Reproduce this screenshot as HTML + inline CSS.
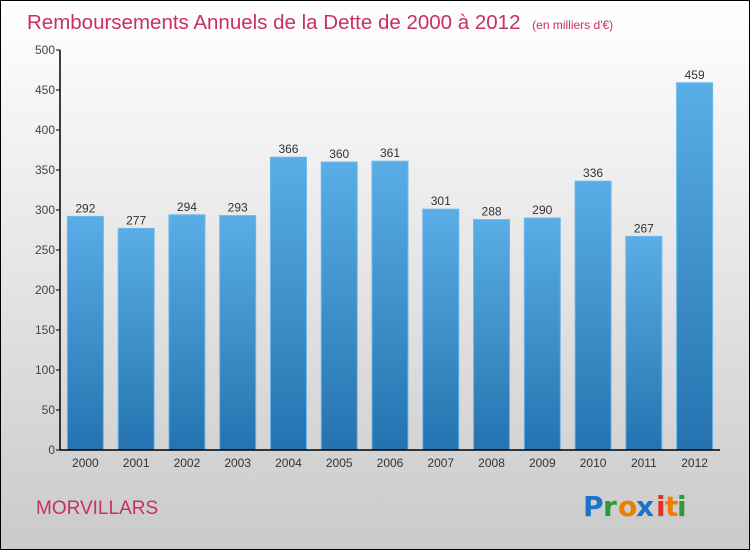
<!DOCTYPE html>
<html><head><meta charset="utf-8"><style>
html,body{margin:0;padding:0}
body{width:750px;height:550px;overflow:hidden;font-family:"Liberation Sans",sans-serif}
</style></head><body>
<svg id="chart" width="750" height="550" xmlns="http://www.w3.org/2000/svg">
<defs>
<linearGradient id="bg" x1="0" y1="0" x2="0" y2="1"><stop offset="0" stop-color="#ffffff"/><stop offset="1" stop-color="#cacaca"/></linearGradient>
<linearGradient id="bar" x1="0" y1="0" x2="0" y2="1"><stop offset="0" stop-color="#5aade6"/><stop offset="1" stop-color="#2473b0"/></linearGradient>
</defs>
<rect x="0.5" y="0.5" width="749" height="549" fill="url(#bg)" stroke="#000"/>
<text x="27" y="29" font-size="20.5" fill="#c8305f">Remboursements Annuels de la Dette de 2000 à 2012 <tspan font-size="12" dx="6">(en milliers d'€)</tspan></text>
<g id="plot"></g>
<text x="36" y="514" font-size="19" fill="#c8305f">MORVILLARS</text>
<g font-size="28" font-weight="bold" font-family="'DejaVu Sans',sans-serif">
<text x="583" y="516" fill="#1a73c9">P</text><text x="603" y="516" fill="#2a9a3a">r</text><text x="618" y="516" fill="#f07d00">o</text><text x="636" y="516" fill="#1a73c9">x</text><text x="656" y="516" fill="#e63020">i</text><text x="665" y="516" fill="#f07d00">t</text><text x="677" y="516" fill="#2a9a3a">i</text>
</g>
</svg>
<script>
const categories=["2000","2001","2002","2003","2004","2005","2006","2007","2008","2009","2010","2011","2012"];
const values=[292,277,294,293,366,360,361,301,288,290,336,267,459];
const yTicks=[0,50,100,150,200,250,300,350,400,450,500];
const ns="http://www.w3.org/2000/svg";
const g=document.getElementById('plot');
const x0=60,x1=720,yBase=450,yTop=50,yMax=500;
const band=(x1-x0)/categories.length;
const y=v=>yBase-(v/yMax)*(yBase-yTop);
const xc=i=>x0+band*(i+0.5);
function mk(t,a){const e=document.createElementNS(ns,t);for(const k in a)e.setAttribute(k,a[k]);g.appendChild(e);return e;}
values.forEach((v,i)=>{
 const r=mk('rect',{x:xc(i)-18,y:y(v),width:36,height:yBase-y(v),fill:'url(#bar)',stroke:'#6cb8ec','stroke-width':1});
 
 
 const t=mk('text',{x:xc(i),y:y(v)-4,'text-anchor':'middle','font-size':12,fill:'#333'});
 t.textContent=v;
 
 
 const c=mk('text',{x:xc(i),y:467,'text-anchor':'middle','font-size':12,fill:'#333'});
 c.textContent=categories[i];
 
 
});
yTicks.forEach(v=>{
 const l=mk('line',{x1:x0-4,x2:x0,y1:y(v),y2:y(v),stroke:'#000'});
 
 
 const t=mk('text',{x:x0-5,y:y(v)+4,'text-anchor':'end','font-size':12,fill:'#444'});
 t.textContent=v;
 
 
});
const ya=mk('line',{x1:x0,x2:x0,y1:yTop,y2:yBase,stroke:'#000','stroke-width':1.5});


const xa=mk('line',{x1:x0,x2:x1,y1:yBase,y2:yBase,stroke:'#000','stroke-width':1.5});


</script>
</body></html>
